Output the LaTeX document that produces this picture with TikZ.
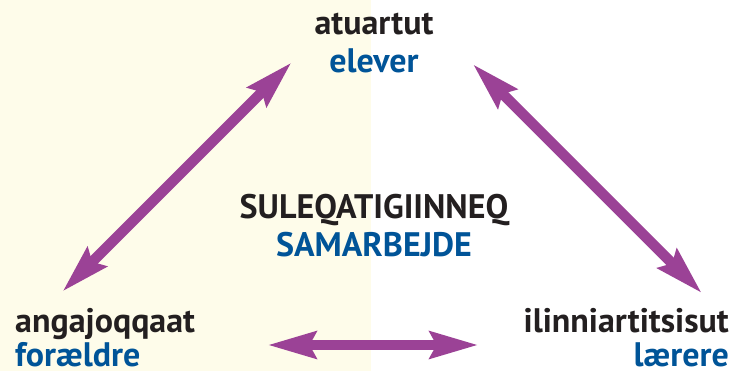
\documentclass[tikz,border=0pt]{standalone}
\usepackage{fontspec}
\setmainfont{PT Sans}
\usetikzlibrary{arrows.meta}
\definecolor{bgyellow}{RGB}{254,252,234}
\definecolor{txtblack}{RGB}{35,31,32}
\definecolor{txtblue}{RGB}{0,84,152}
\definecolor{arrowpurple}{RGB}{155,66,150}
\tikzset{
  lbl/.style={inner sep=0pt, font=\fontsize{34}{40}\selectfont\bfseries},
  blk/.style={lbl, text=txtblack},
  blu/.style={lbl, text=txtblue},
  dblarrow/.style={draw=arrowpurple, line width=10.5pt,
    {Stealth[length=48pt,width=26pt,inset=6pt]}-{Stealth[length=48pt,width=26pt,inset=6pt]}}
}
\begin{document}
\begin{tikzpicture}[x=1pt,y=-1pt]
\useasboundingbox (0,0) rectangle (737,371);
\fill[white] (0,0) rectangle (737,371);
\fill[bgyellow] (0,0) rectangle (371,371);
% labels
\node[blk, anchor=base] (atu) at (374,35) {atuartut};
\node[blu, anchor=base] (ele) at (374,72.5) {elever};
\node[blk, anchor=base west] (ang) at (15,333) {angajoqqaat};
\node[blu, anchor=base west] (for) at (15,366.5) {forældre};
\node[blk, anchor=base east] (ili) at (729,333) {ilinniartitsisut};
\node[blu, anchor=base east] (lae) at (729,366.5) {lærere};
\node[blk, anchor=base] (sul) at (374,219) {SULEQATIGIINNEQ};
\node[blu, anchor=base] (sam) at (374,257) {SAMARBEJDE};
% arrow end points
\coordinate (lt) at (291.7,62.3);
\coordinate (lb) at (62.3,291.7);
\coordinate (rt) at (472.7,64);
\coordinate (rb) at (702,293.3);
\coordinate (hl) at (267.3,345);
\coordinate (hr) at (478.7,345);
\draw[dblarrow] (lb) -- (lt);
\draw[dblarrow] (rt) -- (rb);
\draw[dblarrow] (hl) -- (hr);
\end{tikzpicture}
\end{document}
